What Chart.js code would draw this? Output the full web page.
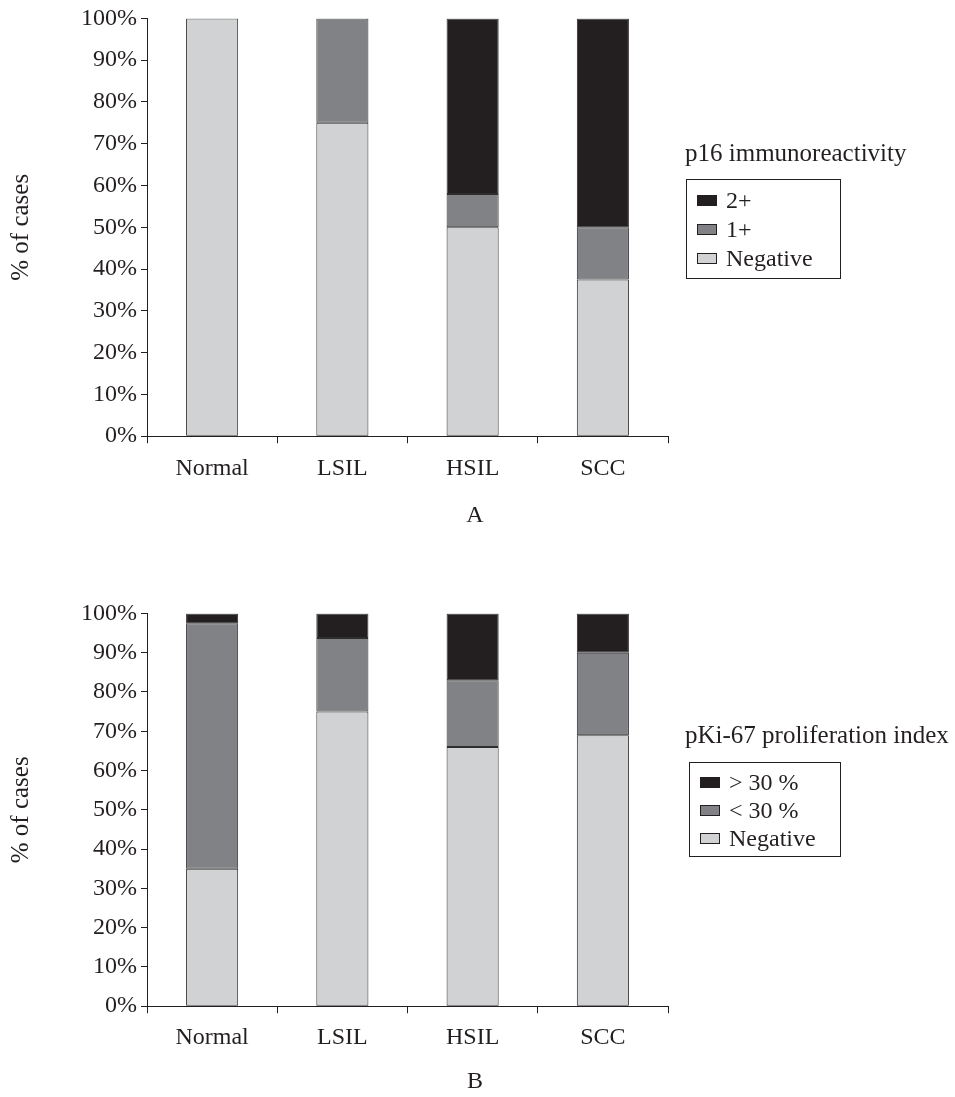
<!DOCTYPE html>
<html>
<head>
<meta charset="utf-8">
<script src="https://cdn.jsdelivr.net/npm/chart.js@4.4.0/dist/chart.umd.min.js"></script>
<style>
  body { margin: 0; background: #fff; }
  #page { position: relative; width: 955px; height: 1097px; font-family: 'Liberation Serif', 'Times New Roman', serif; color: #231f20; }
  .chart { position: absolute; left: 0; }
  .legend-title { position: absolute; font-size: 25px; white-space: nowrap; line-height: 30px; }
  .legend-box { position: absolute; border: 1px solid #231f20; box-sizing: border-box; padding-left: 10px; }
  .legend-row { display: flex; align-items: center; font-size: 24px; white-space: nowrap; }
  .swatch { width: 18px; height: 9px; border: 1px solid #231f20; margin-right: 9px; }
</style>
</head>
<body>
<div id="page">
  <canvas id="chart-a" class="chart" style="top:0" width="950" height="530"></canvas>
  <canvas id="chart-b" class="chart" style="top:595px" width="950" height="501"></canvas>
  <div class="legend-title" style="left:685px; top:138px">p16 immunoreactivity</div>
  <div id="legend-a" class="legend-box" style="left:686px; top:179px; width:155px; height:100px; padding-top:6px"></div>
  <div class="legend-title" style="left:685px; top:720px">pKi-67 proliferation index</div>
  <div id="legend-b" class="legend-box" style="left:689px; top:762px; width:152px; height:95px; padding-top:5px"></div>
</div>
<script>
const categories = ['Normal', 'LSIL', 'HSIL', 'SCC'];

// panel A: p16 immunoreactivity
const p16Negative = [100, 75, 50, 37.5];
const p16Weak     = [0, 25, 8, 12.5];
const p16Strong   = [0, 0, 42, 50];

// panel B: pKi-67 proliferation index
const ki67Negative = [35, 75, 66, 69];
const ki67Low      = [62.5, 18.75, 17, 21];
const ki67High     = [2.5, 6.25, 17, 10];

const yTicks = [0, 10, 20, 30, 40, 50, 60, 70, 80, 90, 100];

const C_NEG = '#d1d2d4', C_MID = '#808285', C_HIGH = '#231f20';
const INK = '#231f20';
const FONT = { family: "'Liberation Serif', 'Times New Roman', serif", size: 24, weight: 'normal' };

function buildChart(canvasId, series, caption, xHeight, labelPad) {
  const ctx = document.getElementById(canvasId).getContext('2d');
  return new Chart(ctx, {
    type: 'bar',
    data: {
      labels: categories,
      datasets: series.map(s => ({
        label: s.label,
        data: s.data,
        backgroundColor: s.color,
        borderColor: '#2e2e2e',
        borderWidth: 1,
        borderSkipped: false,
        barPercentage: 0.4,
        categoryPercentage: 1
      }))
    },
    options: {
      responsive: false,
      devicePixelRatio: 1,
      animation: false,
      layout: { padding: { top: 17, right: 0, left: 0, bottom: 0 } },
      plugins: {
        legend: { display: false },
        tooltip: { enabled: false },
        // panel letter, centred under the whole figure
        title: { display: true, position: 'bottom', text: caption, font: FONT, color: INK, padding: 0 }
      },
      scales: {
        x: {
          stacked: true,
          offset: true,
          grid: { offset: true, drawOnChartArea: false, drawTicks: true, tickLength: 7, color: INK },
          border: { display: true, color: INK },
          ticks: { font: FONT, color: INK, padding: labelPad, maxRotation: 0 },
          afterFit: s => { s.height = xHeight; }
        },
        y: {
          stacked: true,
          min: 0,
          max: 100,
          afterBuildTicks: s => { s.ticks = yTicks.map(v => ({ value: v })); },
          grid: { drawOnChartArea: false, drawTicks: true, tickLength: 6, color: INK },
          border: { display: true, color: INK },
          ticks: { font: FONT, color: INK, padding: 4, callback: v => v + '%' },
          title: { display: true, text: '% of cases', font: { family: FONT.family, size: 25 }, color: INK, padding: { top: 6, bottom: 0 } },
          afterFit: s => { s.width = 147; }
        },
        // empty right-hand axis that reserves the room used by the legend
        spacer: {
          position: 'right',
          grid: { display: false },
          border: { display: false },
          ticks: { display: false },
          afterFit: s => { s.width = 282; }
        }
      }
    }
  });
}

function buildLegend(id, series, rowHeight) {
  const box = document.getElementById(id);
  series.slice().reverse().forEach(s => {
    const row = document.createElement('div');
    row.className = 'legend-row';
    row.style.height = rowHeight + 'px';
    row.innerHTML = `<span class="swatch" style="background:${s.color}"></span><span>${s.label}</span>`;
    box.appendChild(row);
  });
}

const seriesA = [
  { label: 'Negative', data: p16Negative, color: C_NEG },
  { label: '1+',       data: p16Weak,     color: C_MID },
  { label: '2+',       data: p16Strong,   color: C_HIGH }
];
const seriesB = [
  { label: 'Negative', data: ki67Negative, color: C_NEG },
  { label: '< 30 %',   data: ki67Low,      color: C_MID },
  { label: '> 30 %',   data: ki67High,     color: C_HIGH }
];

buildChart('chart-a', seriesA, 'A', 65, 11);
buildChart('chart-b', seriesB, 'B', 61, 10);
buildLegend('legend-a', seriesA, 29);
buildLegend('legend-b', seriesB, 28);
</script>
</body>
</html>
